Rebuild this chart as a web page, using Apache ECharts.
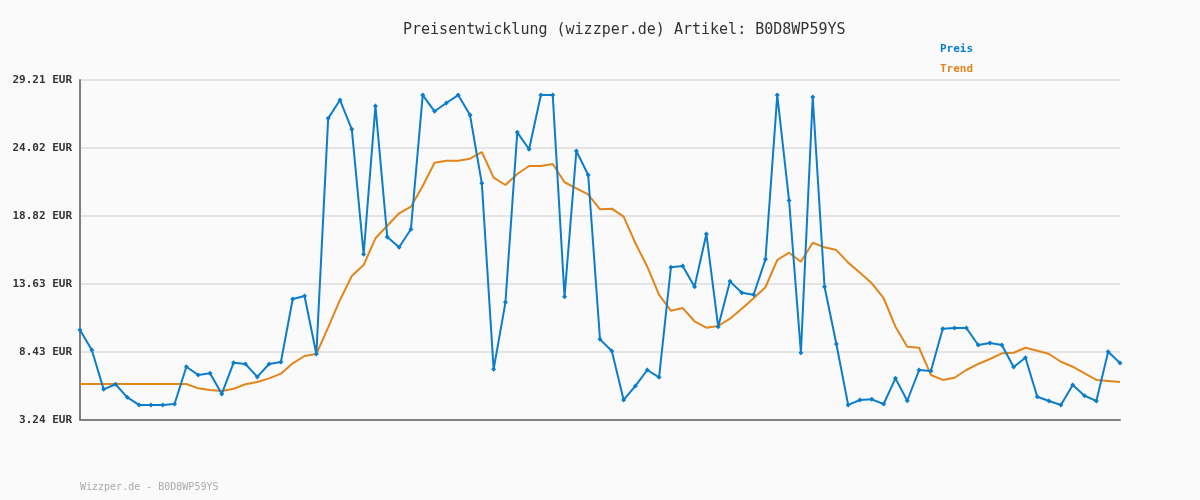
<!DOCTYPE html>
<html><head><meta charset="utf-8">
<script src="https://cdn.jsdelivr.net/npm/echarts@6/dist/echarts.min.js"></script>
<style>html,body{margin:0;padding:0;background:#fafafa}#c{width:1200px;height:500px}</style>
</head><body><div id="c"></div>
<script>
const titleText = 'Preisentwicklung (wizzper.de) Artikel: B0D8WP59YS';
const footerText = 'Wizzper.de - B0D8WP59YS';
const seriesNames = ['Preis', 'Trend'];
const yMin = 3.24, yMax = 29.21, yStep = 5.194;
const preis = [10.11,8.59,5.58,5.97,4.97,4.39,4.39,4.39,4.46,7.31,6.68,6.81,5.23,7.62,7.52,6.53,7.52,7.67,12.48,12.71,8.28,26.28,27.68,25.44,15.90,27.22,17.22,16.43,17.81,28.06,26.82,27.45,28.06,26.54,21.32,7.11,12.23,25.21,23.92,28.06,28.06,12.66,23.79,21.95,9.40,8.51,4.77,5.84,7.06,6.50,14.90,15.00,13.42,17.45,10.37,13.83,12.96,12.81,15.51,28.06,20.00,8.38,27.91,13.42,9.05,4.39,4.77,4.82,4.46,6.42,4.71,7.06,6.98,10.21,10.27,10.27,8.97,9.12,8.97,7.29,8.00,5.02,4.69,4.39,5.91,5.10,4.69,8.46,7.59];
const trend = [5.99,5.99,5.99,5.99,5.99,5.99,5.99,5.99,5.99,5.99,5.66,5.53,5.45,5.63,5.97,6.14,6.42,6.78,7.57,8.13,8.28,10.32,12.41,14.24,15.08,17.12,18.08,19.03,19.53,21.11,22.89,23.05,23.05,23.20,23.71,21.75,21.19,22.03,22.64,22.64,22.79,21.40,20.94,20.48,19.33,19.38,18.77,16.74,14.95,12.79,11.59,11.79,10.78,10.29,10.42,10.98,11.74,12.54,13.38,15.46,16.02,15.33,16.78,16.43,16.22,15.26,14.49,13.68,12.54,10.37,8.84,8.76,6.68,6.30,6.47,7.06,7.52,7.90,8.33,8.38,8.76,8.53,8.28,7.69,7.31,6.81,6.30,6.22,6.14];
const categories = preis.map((_, i) => String(i + 1));
const blue = '#0b7dcb', orange = '#e2861c';
const mono = '"DejaVu Sans Mono", "Liberation Mono", monospace';
const chart = echarts.init(document.getElementById('c'), null, {renderer: 'canvas'});
chart.setOption({
  backgroundColor: '#fafafa',
  animation: false,
  title: [{
    text: titleText, left: 398, top: 18,
    textStyle: {fontFamily: mono, fontSize: 15, fontWeight: 'normal', color: '#333'}
  }, {
    text: footerText, left: 75, top: 477,
    textStyle: {fontFamily: mono, fontSize: 10, fontWeight: 'normal', color: '#aaa'}
  }],
  legend: {
    data: [{name: seriesNames[0], textStyle: {color: blue}}, {name: seriesNames[1], textStyle: {color: orange}}],
    orient: 'vertical', left: 930, top: 37, itemGap: 8, icon: 'none', itemWidth: 0,
    textStyle: {fontFamily: mono, fontSize: 11, fontWeight: 'bold'}
  },
  grid: {left: 80, right: 80, top: 80, bottom: 80, containLabel: false},
  xAxis: {
    type: 'category', data: categories, boundaryGap: false,
    axisLine: {lineStyle: {color: '#808080', width: 2}},
    axisTick: {show: false}, axisLabel: {show: false}, splitLine: {show: false}
  },
  yAxis: {
    type: 'value', min: yMin, max: yMax, interval: yStep,
    axisLine: {show: true, lineStyle: {color: '#808080', width: 2}},
    axisTick: {show: false},
    axisLabel: {formatter: v => v.toFixed(2) + ' EUR', fontFamily: mono, fontSize: 11, fontWeight: 'bold', color: '#333', margin: 8},
    splitLine: {lineStyle: {color: '#e4e4e4', width: 2}}
  },
  series: [{
    name: seriesNames[0], type: 'line', data: preis,
    lineStyle: {color: blue, width: 2}, itemStyle: {color: blue},
    symbol: 'diamond', symbolSize: 5, showSymbol: true, z: 3
  }, {
    name: seriesNames[1], type: 'line', data: trend,
    lineStyle: {color: orange, width: 2}, itemStyle: {color: orange},
    symbol: 'none', z: 2
  }]
});
</script></body></html>
